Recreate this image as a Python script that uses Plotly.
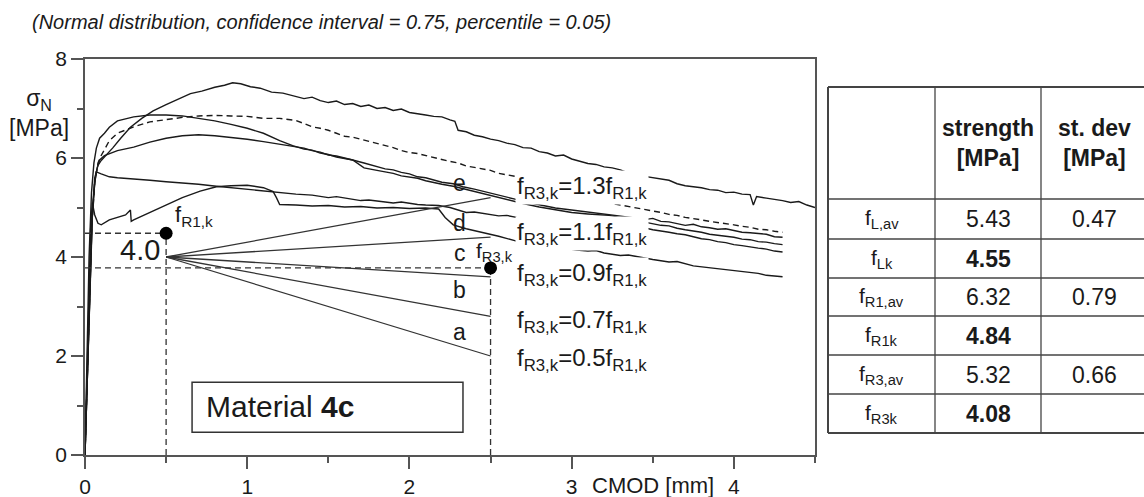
import plotly.graph_objects as go

# ---------------- data ----------------
# load - CMOD curves of the individual specimens (CMOD in mm, sigma_N in MPa)
spec1_cmod = [0, 0.015, 0.03, 0.045, 0.06, 0.08, 0.1, 0.13, 0.17, 0.22, 0.28, 0.35, 0.42, 0.5, 0.58,
              0.65, 0.72, 0.8, 0.86, 0.91, 0.96, 1.02, 1.08, 1.15, 1.22,
              1.3, 1.35, 1.4, 1.45, 1.5, 1.55, 1.6, 1.65, 1.7, 1.75, 1.8, 1.85, 1.9, 1.95, 2.0, 2.05,
              2.1, 2.15, 2.2, 2.25, 2.28, 2.3, 2.35, 2.4, 2.45, 2.5, 2.55, 2.6, 2.65, 2.7, 2.75, 2.8,
              2.85, 2.9, 2.95, 3.0, 3.05, 3.1, 3.15, 3.2, 3.25, 3.3, 3.35, 3.4, 3.45, 3.5, 3.55, 3.6,
              3.65, 3.7, 3.75, 3.8, 3.85, 3.9, 3.95, 4.0, 4.05, 4.1, 4.12, 4.14, 4.2, 4.25, 4.3, 4.35,
              4.4, 4.45, 4.5]
spec1_sigma = [0, 1.8, 3.6, 4.9, 5.6, 5.85, 5.95, 6.05, 6.2, 6.4, 6.62, 6.8, 6.95, 7.08, 7.2,
               7.3, 7.35, 7.43, 7.47, 7.52, 7.5, 7.44, 7.41, 7.33, 7.31,
               7.25, 7.2, 7.23, 7.16, 7.12, 7.15, 7.08, 7.1, 7.04, 7.07, 7.0, 7.02, 6.96, 6.99, 6.92, 6.9,
               6.87, 6.84, 6.83, 6.77, 6.74, 6.56, 6.53, 6.46, 6.43, 6.38, 6.35, 6.3, 6.27, 6.21, 6.2, 6.13,
               6.1, 6.04, 6.06, 5.98, 5.93, 5.89, 5.87, 5.82, 5.8, 5.76, 5.7, 5.69, 5.63, 5.6, 5.57, 5.55,
               5.48, 5.44, 5.42, 5.4, 5.36, 5.35, 5.3, 5.31, 5.27, 5.26, 5.05, 5.22, 5.19, 5.17, 5.14, 5.1,
               5.12, 5.05, 5.0]

spec2_cmod = [0, 0.012, 0.025, 0.04, 0.055, 0.07, 0.09, 0.12, 0.15, 0.2, 0.3, 0.4, 0.5, 0.6, 0.7,
              0.8, 0.9, 1.0, 1.1, 1.2, 1.28, 1.35, 1.4, 1.45, 1.5, 1.55, 1.6, 1.65, 1.72, 1.77, 1.8,
              1.85, 1.9, 1.95, 2.0, 2.05, 2.1, 2.15, 2.2, 2.27, 2.33, 2.4, 2.45, 2.5, 2.55, 2.6, 2.65,
              2.7, 2.8, 2.9, 3.0, 3.1, 3.23, 3.35, 3.46, 3.5, 3.55, 3.6, 3.65, 3.7, 3.75, 3.8, 3.85,
              3.9, 3.95, 4.0, 4.05, 4.1, 4.15, 4.2, 4.25, 4.3]
spec2_sigma = [0, 2.0, 4.0, 5.3, 5.9, 6.2, 6.4, 6.5, 6.62, 6.75, 6.83, 6.87, 6.87, 6.85, 6.8,
               6.75, 6.68, 6.6, 6.5, 6.35, 6.25, 6.18, 6.16, 6.1, 6.07, 6.02, 5.99, 5.96, 5.9, 5.85, 5.83,
               5.78, 5.76, 5.71, 5.68, 5.62, 5.6, 5.56, 5.51, 5.48, 5.42, 5.37, 5.33, 5.29, 5.26, 5.21, 5.17,
               5.12, 5.06, 4.99, 4.95, 4.91, 4.86, 4.81, 4.76, 4.78, 4.72, 4.71, 4.67, 4.64, 4.66, 4.61, 4.59,
               4.56, 4.57, 4.53, 4.5, 4.49, 4.47, 4.46, 4.41, 4.4]

spec3_cmod = [0, 0.015, 0.03, 0.045, 0.06, 0.075, 0.09, 0.12, 0.2, 0.3, 0.4, 0.5, 0.6, 0.7, 0.8,
              0.9, 1.0, 1.1, 1.2, 1.3, 1.35, 1.4, 1.45, 1.5, 1.55, 1.6, 1.65, 1.72, 1.77, 1.8, 1.85,
              1.9, 1.95, 2.0, 2.05, 2.1, 2.15, 2.2, 2.27, 2.33, 2.4, 2.5, 2.6, 2.7, 2.8, 2.9, 3.0,
              3.1, 3.23, 3.35, 3.46, 3.5, 3.55, 3.6, 3.65, 3.7, 3.75, 3.8, 3.85, 3.9, 3.95, 4.0, 4.05,
              4.1, 4.15, 4.2, 4.25, 4.3]
spec3_sigma = [0, 1.5, 3.3, 4.8, 5.5, 5.8, 5.96, 6.05, 6.15, 6.22, 6.32, 6.4, 6.45, 6.47, 6.45,
               6.42, 6.38, 6.33, 6.28, 6.22, 6.2, 6.15, 6.12, 6.06, 6.04, 6.0, 5.96, 5.8, 5.76, 5.75, 5.72,
               5.69, 5.64, 5.62, 5.59, 5.54, 5.5, 5.47, 5.43, 5.38, 5.33, 5.25, 5.16, 5.08, 5.01, 4.95, 4.9,
               4.87, 4.84, 4.77, 4.7, 4.68, 4.64, 4.63, 4.58, 4.55, 4.53, 4.5, 4.46, 4.44, 4.42, 4.4, 4.36,
               4.35, 4.31, 4.3, 4.27, 4.25]

spec4_cmod = [0, 0.015, 0.03, 0.045, 0.06, 0.07, 0.1, 0.15, 0.2, 0.3, 0.4, 0.5, 0.6, 0.7, 0.81,
              0.9, 1.0, 1.1, 1.16, 1.3, 1.4, 1.5, 1.55, 1.6, 1.65, 1.7, 1.75, 1.8, 1.85, 1.9, 1.95,
              2.0, 2.05, 2.1, 2.18, 2.25, 2.3, 2.35, 2.4, 2.45, 2.5, 2.55, 2.6, 2.66, 2.8, 3.0, 3.2,
              3.46, 3.5, 3.55, 3.6, 3.65, 3.7, 3.75, 3.8, 3.85, 3.9, 3.95, 4.0, 4.05, 4.1, 4.15, 4.2,
              4.25, 4.3]
spec4_sigma = [0, 1.7, 3.5, 4.9, 5.5, 5.72, 5.68, 5.62, 5.6, 5.58, 5.55, 5.52, 5.5, 5.47, 5.43,
               5.4, 5.37, 5.33, 5.31, 5.27, 5.25, 5.2, 5.22, 5.19, 5.16, 5.14, 5.15, 5.13, 5.1, 5.09, 5.11,
               5.08, 5.06, 5.05, 5.04, 5.0, 4.95, 4.9, 4.91, 4.88, 4.86, 4.83, 4.84, 4.8, 4.75, 4.7, 4.65,
               4.58, 4.55, 4.53, 4.5, 4.47, 4.45, 4.41, 4.37, 4.35, 4.31, 4.29, 4.25, 4.23, 4.2, 4.18, 4.16,
               4.12, 4.1]

spec5_cmod = [0, 0.012, 0.025, 0.035, 0.045, 0.06, 0.08, 0.1, 0.15, 0.2, 0.25, 0.28, 0.285, 0.3, 0.4,
              0.5, 0.6, 0.71, 0.81, 0.9, 1.0, 1.1, 1.16, 1.18, 1.2, 1.3, 1.4, 1.5, 1.6, 1.7, 1.8,
              1.9, 2.0, 2.1, 2.18, 2.22, 2.27, 2.35, 2.45, 2.55, 2.66, 2.8, 2.9, 3.03, 3.1, 3.15, 3.2,
              3.3, 3.35, 3.45, 3.5, 3.6, 3.65, 3.75, 3.8, 3.9, 3.95, 4.0, 4.05, 4.1, 4.15, 4.2, 4.25,
              4.3]
spec5_sigma = [0, 1.8, 3.6, 4.6, 5.1, 4.85, 4.68, 4.65, 4.75, 4.8, 4.85, 4.95, 4.72, 4.75, 4.9,
               5.05, 5.2, 5.33, 5.42, 5.44, 5.45, 5.4, 5.32, 5.2, 5.06, 5.05, 5.03, 5.04, 5.01, 5.02, 4.99,
               5.0, 4.98, 4.99, 4.97, 4.8, 4.65, 4.57, 4.5, 4.42, 4.32, 4.25, 4.2, 4.14, 4.12, 4.13, 4.08,
               4.03, 4.04, 3.97, 3.95, 3.9, 3.91, 3.82, 3.8, 3.76, 3.74, 3.72, 3.7, 3.68, 3.67, 3.63, 3.62,
               3.6]

# mean curve (dashed)
mean_cmod = [0, 0.02, 0.04, 0.06, 0.08, 0.1, 0.15, 0.2, 0.3, 0.4, 0.5, 0.6, 0.7, 0.8, 0.9, 1.0,
             1.1, 1.2, 1.3, 1.35, 1.4, 1.45, 1.5, 1.55, 1.6, 1.65, 1.7, 1.75, 1.8, 1.85, 1.9, 1.95,
             2.0, 2.05, 2.1, 2.15, 2.2, 2.25, 2.3, 2.35, 2.4, 2.45, 2.5, 2.55, 2.6, 2.65, 2.7, 2.8,
             2.9, 3.0, 3.1, 3.2, 3.25, 3.3, 3.35, 3.4, 3.45, 3.5, 3.55, 3.6, 3.65, 3.7, 3.75, 3.8,
             3.85, 3.9, 3.95, 4.0, 4.05, 4.1, 4.15, 4.2, 4.25, 4.3]
mean_sigma = [0, 2.5, 4.5, 5.5, 5.9, 6.05, 6.35, 6.5, 6.63, 6.73, 6.78, 6.82, 6.85, 6.86, 6.85, 6.84,
              6.8, 6.8, 6.76, 6.7, 6.63, 6.6, 6.56, 6.5, 6.44, 6.42, 6.38, 6.33, 6.29, 6.26, 6.21, 6.15,
              6.11, 6.09, 6.05, 6.0, 5.97, 5.93, 5.9, 5.84, 5.81, 5.78, 5.75, 5.69, 5.66, 5.64, 5.6, 5.5,
              5.4, 5.3, 5.2, 5.1, 5.08, 5.05, 5.03, 5.0, 4.96, 4.93, 4.9, 4.86, 4.84, 4.8, 4.78, 4.75,
              4.72, 4.7, 4.68, 4.65, 4.62, 4.6, 4.56, 4.55, 4.52, 4.5]

# characteristic values
f_r1k_cmod, f_r1k_value = 0.5, 4.48
f_r3k_cmod, f_r3k_value = 2.5, 3.78
fan_origin_value = 4.0
fan_ratios = [0.5, 0.7, 0.9, 1.1, 1.3]
fan_letters = ["a", "b", "c", "d", "e"]

# strength table
table_rows = ["f<sub>L,av</sub>", "f<sub>Lk</sub>", "f<sub>R1,av</sub>",
              "f<sub>R1k</sub>", "f<sub>R3,av</sub>", "f<sub>R3k</sub>"]
table_strength = ["5.43", "4.55", "6.32", "4.84", "5.32", "4.08"]
table_stdev = ["0.47", "", "0.79", "", "0.66", ""]
table_bold = [False, True, False, True, False, True]

# ---------------- figure ----------------
FONT = "Liberation Sans, Arial, Helvetica, sans-serif"
INK = "#1a1a1a"
W, H = 1144, 497
L, R, T, B = 85, 329, 59, 42
PW, PH = W - L - R, H - T - B


def px(x):
    return (x - L) / PW


def py(y):
    return (H - B - y) / PH


fig = go.Figure()

for xs, ys in [(spec1_cmod, spec1_sigma), (spec2_cmod, spec2_sigma), (spec3_cmod, spec3_sigma),
               (spec4_cmod, spec4_sigma), (spec5_cmod, spec5_sigma)]:
    fig.add_trace(go.Scatter(x=xs, y=ys, mode="lines",
                             line=dict(color=INK, width=1.4), hoverinfo="skip"))

fig.add_trace(go.Scatter(x=mean_cmod, y=mean_sigma, mode="lines",
                         line=dict(color=INK, width=1.4, dash="6px,4px"), hoverinfo="skip"))

# dashed construction lines
dash = dict(color="#333", width=1.3, dash="6px,4px")
fig.add_trace(go.Scatter(x=[0, f_r1k_cmod], y=[f_r1k_value, f_r1k_value], mode="lines",
                         line=dash, hoverinfo="skip"))
fig.add_trace(go.Scatter(x=[f_r1k_cmod, f_r1k_cmod], y=[0, f_r1k_value], mode="lines",
                         line=dash, hoverinfo="skip"))
fig.add_trace(go.Scatter(x=[0, f_r3k_cmod], y=[f_r3k_value, f_r3k_value], mode="lines",
                         line=dash, hoverinfo="skip"))
fig.add_trace(go.Scatter(x=[f_r3k_cmod, f_r3k_cmod], y=[0, f_r3k_value], mode="lines",
                         line=dash, hoverinfo="skip"))

# fan of linear post-peak laws a..e
for ratio in fan_ratios:
    fig.add_trace(go.Scatter(x=[f_r1k_cmod, f_r3k_cmod],
                             y=[fan_origin_value, fan_origin_value * ratio],
                             mode="lines", line=dict(color="#333", width=1.3), hoverinfo="skip"))

# characteristic points
fig.add_trace(go.Scatter(x=[f_r1k_cmod, f_r3k_cmod], y=[f_r1k_value, f_r3k_value], mode="markers",
                         marker=dict(color="#000", size=13), hoverinfo="skip"))

ann = []
tf = dict(family=FONT, color=INK)


def label(x, y, text, size, xanchor="center", yanchor="middle", paper=False, **kw):
    a = dict(x=x, y=y, text=text, showarrow=False, xanchor=xanchor, yanchor=yanchor,
             font=dict(size=size, **tf), **kw)
    if paper:
        a.update(xref="paper", yref="paper")
    ann.append(a)


# letters and ratio labels
letter_y = [2.49, 3.33, 4.08, 4.69, 5.5]
ratio_label_y = [1.92, 2.69, 3.64, 4.48, 5.41]
for letter, ly in zip(fan_letters, letter_y):
    label(2.31, ly, letter, 23)
for ratio, ly in zip(fan_ratios, ratio_label_y):
    label(2.65, ly, f"f<sub>R3,k</sub>={ratio:.1f}f<sub>R1,k</sub>", 24, xanchor="left",
          bgcolor="white", borderpad=1)

label(0.475, 4.14, f"{fan_origin_value:.1f}", 29, xanchor="right")
label(0.54, 4.82, "f<sub>R1,k</sub>", 22, xanchor="left")
label(2.4, 4.1, "f<sub>R3,k</sub>", 21, xanchor="left")

# material box
fig.add_shape(type="rect", x0=0.66, x1=2.33, y0=0.46, y1=1.47, line=dict(color="#333", width=1.5),
              fillcolor="white", layer="above")
label(0.735, 0.97, "Material <b>4c</b>", 30, xanchor="left")

# axis titles and heading
ann.append(dict(x=3.5, y=py(485), yref="paper", text="CMOD [mm]", showarrow=False,
                xanchor="center", yanchor="middle", font=dict(size=22, **tf)))
label(px(39), py(113), "σ<sub>N</sub><br>[MPa]", 23, paper=True)
label(px(30), py(22), "<i>(Normal distribution, confidence interval = 0.75, percentile = 0.05)</i>",
      20, xanchor="left", paper=True)

# table grid
col_edges = [828, 935, 1041, 1147]
row_edges = [87, 199, 239, 278, 316, 355, 394, 433]
for i, yv in enumerate(row_edges):
    w = 2 if i in (0, len(row_edges) - 1) else 1.3
    fig.add_shape(type="line", xref="paper", yref="paper", x0=px(col_edges[0]), x1=px(col_edges[-1]),
                  y0=py(yv), y1=py(yv), line=dict(color="#444", width=w))
for i, xv in enumerate(col_edges):
    w = 2 if i == 0 else 1.3
    fig.add_shape(type="line", xref="paper", yref="paper", x0=px(xv), x1=px(xv),
                  y0=py(row_edges[0]), y1=py(row_edges[-1]), line=dict(color="#444", width=w))

col_centers = [(a + b) / 2 for a, b in zip(col_edges[:-1], col_edges[1:])]
row_centers = [(a + b) / 2 for a, b in zip(row_edges[:-1], row_edges[1:])]
label(px(col_centers[1]), py(row_centers[0]), "<b>strength</b><br><b>[MPa]</b>", 23, paper=True)
label(px(col_centers[2]), py(row_centers[0]), "<b>st. dev</b><br><b>[MPa]</b>", 23, paper=True)
for name, s, sd, bold, yc in zip(table_rows, table_strength, table_stdev, table_bold, row_centers[1:]):
    label(px(col_centers[0]), py(yc), name, 21, paper=True)
    label(px(col_centers[1]), py(yc), f"<b>{s}</b>" if bold else s, 23, paper=True)
    if sd:
        label(px(col_centers[2]), py(yc), sd, 23, paper=True)

axis_common = dict(showgrid=False, zeroline=False, showline=True, mirror=True, automargin=False,
                   linecolor="#555", linewidth=1.5, ticks="outside", ticklen=12, tickwidth=1.5,
                   tickcolor="#555", tickfont=dict(family=FONT, size=21, color=INK))

fig.update_layout(
    width=W, height=H,
    margin=dict(l=L, r=R, t=T, b=B, autoexpand=False),
    paper_bgcolor="white", plot_bgcolor="white",
    showlegend=False,
    annotations=ann,
    xaxis=dict(range=[0, 4.5], tickvals=[0, 1, 2, 3, 4],
               minor=dict(dtick=0.5, tick0=0, ticklen=6, ticks="outside", tickcolor="#555", tickwidth=1.5),
               **axis_common),
    yaxis=dict(range=[0, 8], tickvals=[0, 2, 4, 6, 8],
               minor=dict(dtick=1, tick0=0, ticklen=6, ticks="outside", tickcolor="#555", tickwidth=1.5),
               **axis_common),
)

fig.write_html("out.html")
